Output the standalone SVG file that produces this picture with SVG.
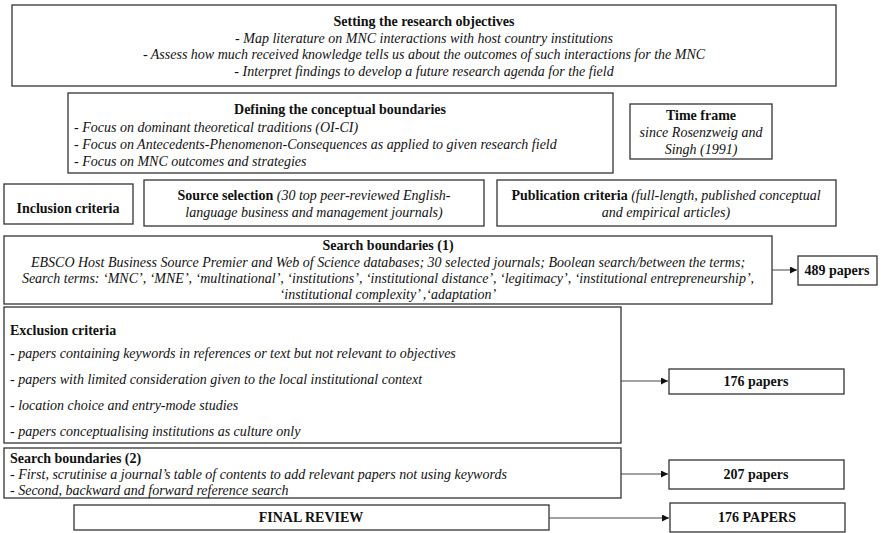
<svg xmlns="http://www.w3.org/2000/svg" width="883" height="533" viewBox="0 0 883 533">
<style>
text{font-family:"Liberation Serif","Times New Roman",serif;font-size:14px;fill:#111}
.b{font-weight:bold}
.i{font-style:italic}
.c{text-anchor:middle}
rect{fill:#fff;stroke:#333;stroke-width:1.3}
.conn line{stroke:#444;stroke-width:1}
</style>
<defs>
<marker id="ah" viewBox="0 0 10 10" refX="10" refY="5" markerWidth="7" markerHeight="7" markerUnits="userSpaceOnUse" orient="auto">
<path d="M0,0 L10,5 L0,10 z" fill="#111"/>
</marker>
</defs>
<rect x="0" y="0" width="883" height="533" style="stroke:none"/>
<g id="objectives">
<rect x="12" y="5" width="824" height="81"/>
<text class="b c" x="424" y="26">Setting the research objectives</text>
<text class="i c" x="424" y="43">- Map literature on MNC interactions with host country institutions</text>
<text class="i c" x="424" y="59">- Assess how much received knowledge tells us about the outcomes of such interactions for the MNC</text>
<text class="i c" x="424" y="76">- Interpret findings to develop a future research agenda for the field</text>
</g>
<g id="conceptual">
<rect x="68" y="93" width="545" height="80"/>
<text class="b c" x="340" y="114">Defining the conceptual boundaries</text>
<text class="i" x="74" y="132">- Focus on dominant theoretical traditions (OI-CI)</text>
<text class="i" x="74" y="149">- Focus on Antecedents-Phenomenon-Consequences as applied to given research field</text>
<text class="i" x="74" y="166">- Focus on MNC outcomes and strategies</text>
</g>
<g id="timeframe">
<rect x="630" y="104" width="142" height="55"/>
<text class="b c" x="701" y="120">Time frame</text>
<text class="i c" x="701" y="137">since Rosenzweig and</text>
<text class="i c" x="701" y="154">Singh (1991)</text>
</g>
<g id="inclusion">
<rect x="4" y="184" width="129" height="40"/>
<text class="b c" x="68" y="213">Inclusion criteria</text>
</g>
<g id="source">
<rect x="144" y="180" width="340" height="46"/>
<text class="c" x="314" y="200"><tspan class="b">Source selection</tspan> <tspan class="i">(30 top peer-reviewed English-</tspan></text>
<text class="i c" x="314" y="217">language business and management journals)</text>
</g>
<g id="publication">
<rect x="497" y="180" width="339" height="46"/>
<text class="c" x="666" y="200"><tspan class="b">Publication criteria</tspan> <tspan class="i">(full-length, published conceptual</tspan></text>
<text class="i c" x="666" y="217">and empirical articles)</text>
</g>
<g id="search1">
<rect x="4" y="236" width="768" height="68"/>
<text class="b c" x="388" y="250">Search boundaries (1)</text>
<text class="i c" x="388" y="267">EBSCO Host Business Source Premier and Web of Science databases; 30 selected journals; Boolean search/between the terms;</text>
<text class="i c" x="388" y="283">Search terms: ‘MNC’, ‘MNE’, ‘multinational’, ‘institutions’, ‘institutional distance’, ‘legitimacy’, ‘institutional entrepreneurship’,</text>
<text class="i c" x="388" y="299">‘institutional complexity’ ,‘adaptation’</text>
</g>
<g id="p489">
<rect x="798" y="256" width="79" height="29"/>
<text class="b c" x="837" y="275">489 papers</text>
</g>
<g id="exclusion">
<rect x="4" y="307" width="617" height="136"/>
<text class="b" x="10" y="335">Exclusion criteria</text>
<text class="i" x="10" y="358">- papers containing keywords in references or text but not relevant to objectives</text>
<text class="i" x="10" y="384">- papers with limited consideration given to the local institutional context</text>
<text class="i" x="10" y="410">- location choice and entry-mode studies</text>
<text class="i" x="10" y="436">- papers conceptualising institutions as culture only</text>
</g>
<g id="p176">
<rect x="669" y="369" width="175" height="25"/>
<text class="b c" x="756" y="386">176 papers</text>
</g>
<g id="search2">
<rect x="4" y="448" width="617" height="50"/>
<text class="b" x="10" y="463">Search boundaries (2)</text>
<text class="i" x="10" y="479">- First, scrutinise a journal’s table of contents to add relevant papers not using keywords</text>
<text class="i" x="10" y="495">- Second, backward and forward reference search</text>
</g>
<g id="p207">
<rect x="669" y="460" width="175" height="29"/>
<text class="b c" x="756" y="479">207 papers</text>
</g>
<g id="final">
<rect x="74" y="505" width="475" height="25"/>
<text class="b c" x="311" y="522">FINAL REVIEW</text>
</g>
<g id="p176caps">
<rect x="670" y="503" width="175" height="29"/>
<text class="b c" x="757" y="522">176 PAPERS</text>
</g>
<g class="conn" id="connectors">
<line x1="772" y1="270" x2="797" y2="270" marker-end="url(#ah)"/>
<line x1="621" y1="381" x2="668" y2="381" marker-end="url(#ah)"/>
<line x1="621" y1="474" x2="668" y2="474" marker-end="url(#ah)"/>
<line x1="549" y1="518" x2="669" y2="518" marker-end="url(#ah)"/>
</g>
</svg>
